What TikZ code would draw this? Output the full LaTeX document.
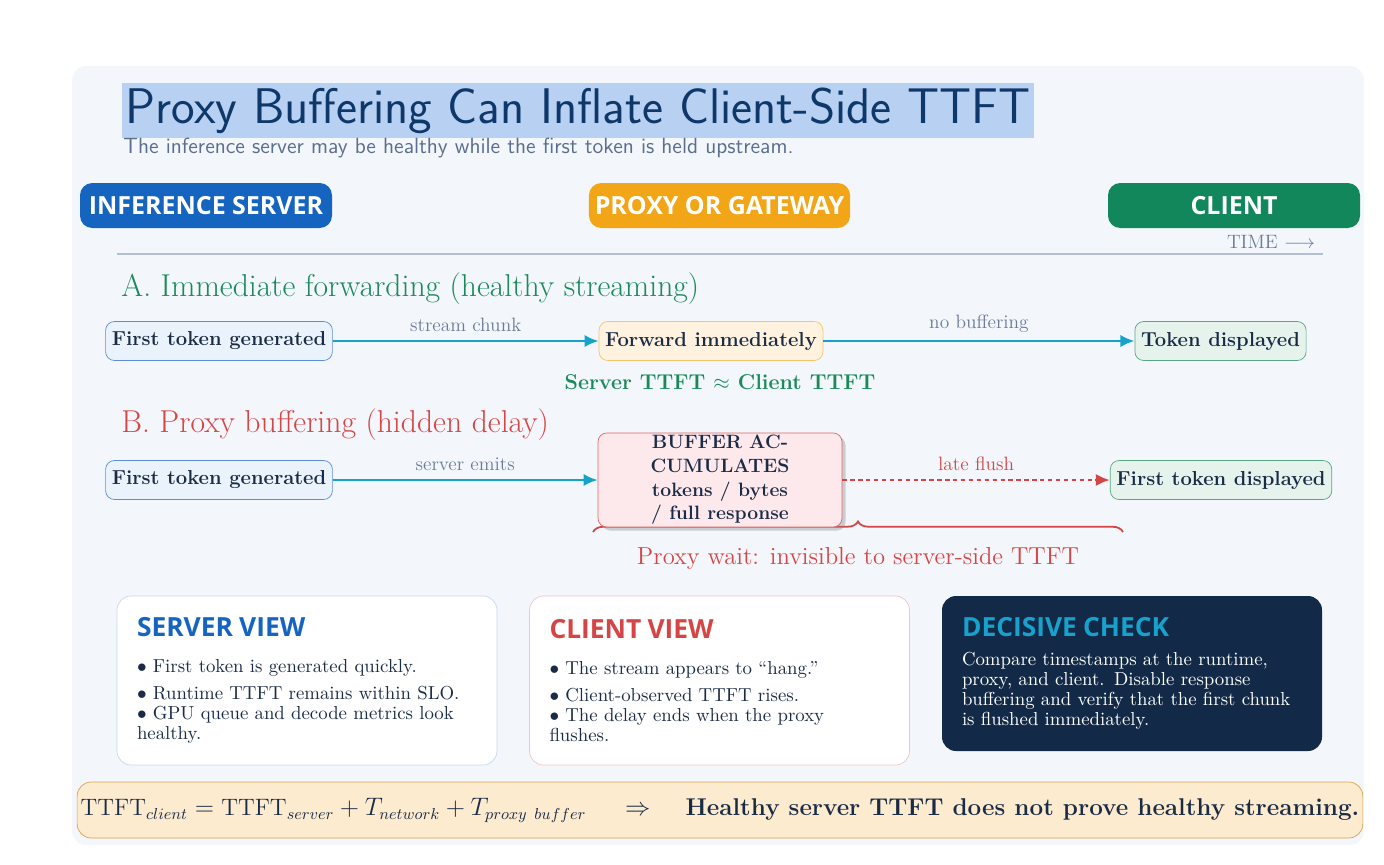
\documentclass[tikz,border=0pt]{standalone}
\usepackage{fontspec}
\newfontfamily\headfont{Open Sans}
\usetikzlibrary{positioning,arrows.meta,shadows,decorations.pathreplacing}

\definecolor{panelbg}{HTML}{F3F6FB}
\definecolor{titlehl}{HTML}{B8D1F3}
\definecolor{titleink}{HTML}{0E386A}
\definecolor{subink}{HTML}{5B6E8E}
\definecolor{serverblue}{HTML}{1565C0}
\definecolor{proxyorange}{HTML}{F2A516}
\definecolor{clientgreen}{HTML}{12875B}
\definecolor{rulegray}{HTML}{B4C0D2}
\definecolor{mutedgray}{HTML}{6A7B98}
\definecolor{agreen}{HTML}{1B8A5A}
\definecolor{bred}{HTML}{D64545}
\definecolor{ink}{HTML}{1A2B45}
\definecolor{flowcyan}{HTML}{16A3C9}
\definecolor{srvfill}{HTML}{EAF2FC}
\definecolor{srvline}{HTML}{5B8ED6}
\definecolor{pxyfill}{HTML}{FFF3E0}
\definecolor{pxyline}{HTML}{F4C46C}
\definecolor{clifill}{HTML}{E6F3EC}
\definecolor{cliline}{HTML}{56A882}
\definecolor{buffill}{HTML}{FDE9EB}
\definecolor{bufline}{HTML}{E06464}
\definecolor{srvcardline}{HTML}{C7D9F0}
\definecolor{clicardline}{HTML}{F2C6C8}
\definecolor{navy}{HTML}{122A47}
\definecolor{checkcyan}{HTML}{17A2CE}
\definecolor{barfill}{HTML}{FDEBD0}
\definecolor{barline}{HTML}{D9A24A}

\tikzstyle{lane} = [rectangle, rounded corners=7pt, minimum width=5.04cm, minimum height=0.9cm, text=white, font=\headfont\bfseries\fontsize{14.2}{16}\selectfont]
\tikzstyle{event} = [rectangle, draw, rounded corners=5pt, minimum height=0.78cm, inner xsep=3.5pt, text=ink, font=\bfseries\fontsize{11.5}{13}\selectfont]
\tikzstyle{flow} = [-{Latex[length=8pt,width=7pt]}, line width=1.5pt, draw=flowcyan]
\tikzstyle{lateflow} = [-{Latex[length=8pt,width=7pt]}, line width=1.6pt, draw=bred, dash pattern=on 2.5pt off 2pt]
\tikzstyle{flowlabel} = [above=1pt, text=mutedgray, font=\fontsize{11}{13}\selectfont]
\tikzstyle{card} = [rectangle, rounded corners=8pt, text width=6.8cm, align=left, inner xsep=0.4cm, text=ink, font=\fontsize{10.7}{11.4}\selectfont]

\begin{document}
\begin{tikzpicture}
        \tikzset{node distance = 0.75cm and 1.5cm}
        % canvas and panel
        \useasboundingbox (0,0) rectangle (27.68,-17.28);
        \fill[panelbg, rounded corners=8pt] (1.44,-1.32) rectangle (27.28,-16.9);

        % heading
        \node (title) at (2.44,-2.21) [anchor=west, fill=titlehl, minimum height=1.1cm, inner xsep=2pt, inner ysep=0pt, text=titleink, font=\sffamily\fontsize{28.5}{31}\selectfont] {Proxy Buffering Can Inflate Client-Side TTFT};
        \node (subtitle) at (2.46,-2.96) [anchor=west, inner sep=0pt, text=subink, font=\sffamily\fontsize{12.5}{14}\selectfont] {The inference server may be healthy while the first token is held upstream.};

        % lanes
        \node (server) at (4.12,-4.11) [lane, fill=serverblue] {INFERENCE SERVER};
        \node (proxy) at (14.39,-4.11) [lane, fill=proxyorange, minimum width=5.18cm] {PROXY OR GATEWAY};
        \node (client) at (24.68,-4.11) [lane, fill=clientgreen] {CLIENT};
        \draw[rulegray, line width=1pt] (2.34,-5.08) -- (26.46,-5.08);
        \node (time) at (25.42,-4.84) [text=mutedgray, font=\fontsize{11}{13}\selectfont] {TIME $\longrightarrow$};

        % A: immediate forwarding
        \node (secA) at (2.42,-5.78) [anchor=west, inner sep=0pt, text=agreen, font=\fontsize{18}{21}\selectfont] {A. Immediate forwarding (healthy streaming)};
        \node (a1) at (4.38,-6.82) [event, fill=srvfill, draw=srvline] {First token generated};
        \node (a2) at (14.22,-6.82) [event, fill=pxyfill, draw=pxyline] {Forward immediately};
        \node (a3) at (24.41,-6.82) [event, fill=clifill, draw=cliline] {Token displayed};
        \draw[flow] (a1) -- node[flowlabel] {stream chunk} (a2);
        \draw[flow] (a2) -- node[flowlabel] {no buffering} (a3);
        \node (eqA) at (14.4,-7.64) [text=agreen, font=\bfseries\fontsize{12.2}{14}\selectfont] {Server TTFT $\approx$ Client TTFT};

        % B: proxy buffering
        \node (secB) at (2.42,-8.5) [anchor=west, inner sep=0pt, text=bred, font=\fontsize{18}{21}\selectfont] {B. Proxy buffering (hidden delay)};
        \coordinate (braceL) at (11.86,-10.64);
        \coordinate (braceR) at (22.46,-10.64);
        \draw[bred, line width=1pt, decorate, decoration={brace, amplitude=6pt}] (braceL) -- (braceR);
        \node (b1) at (4.38,-9.6) [event, fill=srvfill, draw=srvline] {First token generated};
        \node (buffer) at (14.4,-9.6) [event, fill=buffill, draw=bufline, minimum width=4.88cm, minimum height=1.88cm, inner ysep=1pt, align=center, drop shadow={opacity=0.35, shadow xshift=2pt, shadow yshift=-2pt}, font=\bfseries\fontsize{11}{13.5}\selectfont] {BUFFER AC-\\CUMULATES\\tokens / bytes\\/ full response};
        \node (b3) at (24.42,-9.6) [event, fill=clifill, draw=cliline] {First token displayed};
        \draw[flow] (b1) -- node[flowlabel] {server emits} (buffer);
        \draw[lateflow] (buffer) -- node[flowlabel, text=bred] {late flush} (b3);
        \node (wait) at (17.16,-11.16) [text=bred, font=\fontsize{14}{16}\selectfont] {Proxy wait: invisible to server-side TTFT};

        % views
        \node (srvcard) at (6.14,-13.61) [card, draw=srvcardline, fill=white, minimum height=3.38cm] {
            {\headfont\bfseries\fontsize{15}{17}\selectfont\color{serverblue}SERVER VIEW}\\[9pt]
            $\bullet$ First token is generated quickly.\\[4pt]
            $\bullet$ Runtime TTFT remains within SLO.\\
            $\bullet$ GPU queue and decode metrics look\\
            healthy.
};
        \node (clicard) at (14.39,-13.61) [card, draw=clicardline, fill=white, minimum height=3.38cm] {
            {\headfont\bfseries\fontsize{15}{17}\selectfont\color{bred}CLIENT VIEW}\\[9pt]
            $\bullet$ The stream appears to ``hang.''\\[4pt]
            $\bullet$ Client-observed TTFT rises.\\
            $\bullet$ The delay ends when the proxy\\
            flushes.
};
        \node (check) at (22.64,-13.47) [card, fill=navy, text=white, minimum height=3.1cm] {
            {\headfont\bfseries\fontsize{15}{17}\selectfont\color{checkcyan}DECISIVE CHECK}\\[5pt]
            Compare timestamps at the runtime,\\
            proxy, and client. Disable response\\
            buffering and verify that the first chunk\\
            is flushed immediately.
};

        % summary bar
        \node (summary) at (14.4,-16.2) [rectangle, draw=barline, fill=barfill, rounded corners=8pt, minimum width=25.68cm, minimum height=1.12cm, inner xsep=2pt, text=ink, font=\fontsize{13.8}{15}\selectfont] {
            {\fontsize{13.5}{15}\selectfont $\mathrm{TTFT}_{client} = \mathrm{TTFT}_{server} + T_{network} + T_{proxy\ buffer}$}\hspace{1.6em}$\Rightarrow$\hspace{1.45em}\textbf{Healthy server TTFT does not prove healthy streaming.}
};
    \end{tikzpicture}
\end{document}
